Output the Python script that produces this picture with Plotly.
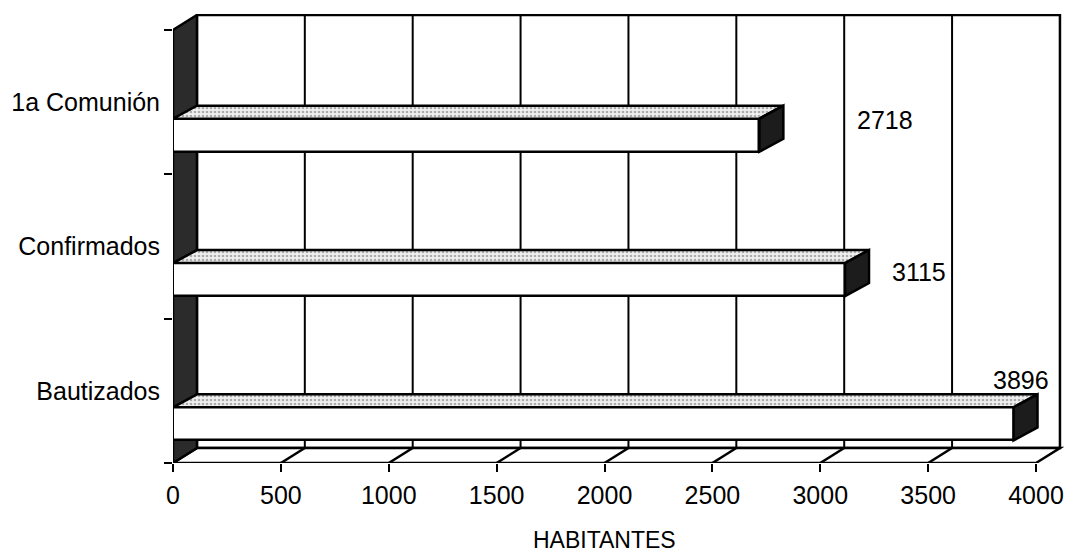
import plotly.graph_objects as go

# ---------------- data ----------------
categories = ["Bautizados", "Confirmados", "1a Comunión"]
values = [3896, 3115, 2718]
x_ticks = [0, 500, 1000, 1500, 2000, 2500, 3000, 3500, 4000]
x_title = "HABITANTES"

# ---------------- styling / geometry (not data) ----------------
FONT = "Liberation Sans, Arial, sans-serif"
FS = 25
X_MAX = 4000
DX = 111          # depth offset in value units
DYW = 0.104       # wall depth offset in category units
DYB = 0.09        # bar depth offset
BAR_OFF = 0.229   # bar front face centre below category centre
BAR_H = 0.229     # bar front face height
label_offsets = {  # (dx in value units, dy in category units) per category
    "Bautizados": (34, 0.075),
    "Confirmados": (343, -0.177),
    "1a Comunión": (582, -0.124),
}

y_lo = -0.5
y_top = len(categories) - 0.5
fig = go.Figure()

# front faces of bars
bar_y = [i - BAR_OFF for i in range(len(categories))]
fig.add_trace(go.Bar(
    orientation="h", x=values, y=bar_y, base=0, width=BAR_H,
    marker=dict(color="white", line=dict(color="black", width=2.5)),
    hoverinfo="skip", showlegend=False,
))

# top and side faces
for i, v in enumerate(values):
    yt = i - BAR_OFF + BAR_H / 2
    yb = i - BAR_OFF - BAR_H / 2
    fig.add_trace(go.Scatter(
        x=[0, v, v + DX, DX, 0], y=[yt, yt, yt + DYB, yt + DYB, yt],
        mode="lines", fill="toself", fillcolor="#e6e6e6",
        fillpattern=dict(shape=".", bgcolor="#f0f0f0", fgcolor="#666666", size=4, solidity=0.35),
        line=dict(color="black", width=2.5), hoverinfo="skip", showlegend=False,
    ))
    fig.add_trace(go.Scatter(
        x=[v, v + DX, v + DX, v, v], y=[yt, yt + DYB, yb + DYB, yb, yt],
        mode="lines", fill="toself", fillcolor="#1c1c1c",
        line=dict(color="black", width=2.5), hoverinfo="skip", showlegend=False,
    ))

shapes = []
# back wall
shapes.append(dict(type="rect", xref="x", yref="y", x0=DX, x1=X_MAX + DX,
                   y0=y_lo + DYW, y1=y_top + DYW, fillcolor="white",
                   line=dict(color="black", width=2.5), layer="below"))
for t in x_ticks[1:-1]:
    shapes.append(dict(type="line", xref="x", yref="y", x0=t + DX, x1=t + DX,
                       y0=y_lo + DYW, y1=y_top + DYW,
                       line=dict(color="black", width=2), layer="below"))
# floor
shapes.append(dict(type="path", xref="x", yref="y",
                   path=f"M 0,{y_lo} L {X_MAX},{y_lo} L {X_MAX + DX},{y_lo + DYW} L {DX},{y_lo + DYW} Z",
                   fillcolor="white", line=dict(color="black", width=2.5), layer="below"))
for t in x_ticks[1:-1]:
    shapes.append(dict(type="line", xref="x", yref="y", x0=t, x1=t + DX,
                       y0=y_lo, y1=y_lo + DYW,
                       line=dict(color="black", width=2.5), layer="below"))
# left wall
shapes.append(dict(type="path", xref="x", yref="y",
                   path=f"M 0,{y_lo} L 0,{y_top} L {DX},{y_top + DYW} L {DX},{y_lo + DYW} Z",
                   fillcolor="#2b2b2b", line=dict(color="black", width=2.5), layer="below"))

annotations = []
for i, (c, v) in enumerate(zip(categories, values)):
    ox, oy = label_offsets[c]
    annotations.append(dict(x=v + ox, y=i + oy, xref="x", yref="y", text=str(v),
                            showarrow=False, font=dict(family=FONT, size=FS, color="black")))
annotations.append(dict(x=2000, y=y_lo, xref="x", yref="y", text=x_title, showarrow=False,
                        yanchor="middle", yshift=-77,
                        font=dict(family=FONT, size=FS - 2, color="black")))

ML, MR, MT, MB = 173, 6, 14, 90
W, H = 1070, 553
px_per_val = 863 / 4000
px_per_cat = 144.33
x_range_max = (W - ML - MR) / px_per_val
y_range_max = y_lo + (H - MT - MB) / px_per_cat

fig.update_layout(
    width=W, height=H,
    margin=dict(l=ML, r=MR, t=MT, b=MB),
    paper_bgcolor="white", plot_bgcolor="white",
    shapes=shapes, annotations=annotations,
    font=dict(family=FONT, size=FS, color="black"),
    xaxis=dict(range=[0, x_range_max], tickvals=x_ticks, ticktext=[str(t) for t in x_ticks],
               ticks="outside", ticklen=8, tickwidth=2, tickcolor="black",
               showgrid=False, zeroline=False, showline=False,
               tickfont=dict(family=FONT, size=FS, color="black"), ticklabelstandoff=2),
    yaxis=dict(range=[y_lo, y_range_max], tickvals=list(range(len(categories))),
               ticktext=categories, ticks="", showgrid=False, zeroline=False, showline=False,
               tickfont=dict(family=FONT, size=FS, color="black"), ticklabelstandoff=12,
               minor=dict(tickvals=[k - 0.5 for k in range(len(categories) + 1)],
                          ticks="outside", ticklen=8, tickwidth=2, tickcolor="black",
                          showgrid=False)),
    bargap=0,
)

fig.write_html("out.html", config={"displayModeBar": False},
               post_script="document.body.style.margin='0px';document.body.style.overflow='hidden';")
